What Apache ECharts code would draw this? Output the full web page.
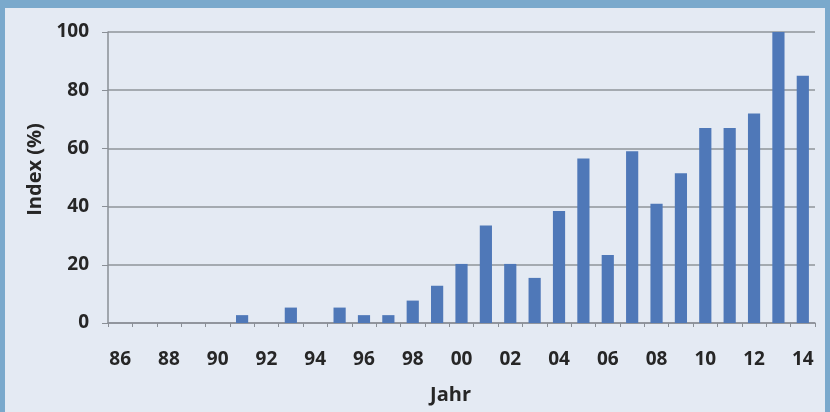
<!DOCTYPE html>
<html><head><meta charset="utf-8">
<script src="https://cdn.jsdelivr.net/npm/echarts@6/dist/echarts.min.js"></script>
<style>
html,body{margin:0;padding:0;width:830px;height:412px;background:#7aa9cc;overflow:hidden}
#c{position:absolute;left:5px;top:8px;width:820px;height:404px;background:#e4eaf3}
</style></head><body>
<div id="c"></div>
<script>
const years = ['86','87','88','89','90','91','92','93','94','95','96','97','98','99','00','01','02','03','04','05','06','07','08','09','10','11','12','13','14'];
const values = [0,0,0,0,0,2.7,0,5.3,0,5.3,2.7,2.7,7.7,12.8,20.3,33.5,20.3,15.5,38.5,56.5,23.4,59,41,51.5,67,67,72,100,85];
const yTicks = [0,20,40,60,80,100];

const chart = echarts.init(document.getElementById('c'));
const font = '"Open Sans", sans-serif';
const txt = '#262626';
chart.setOption({
  animation:false,
  grid:{left:103,right:10,top:24,bottom:89},
  xAxis:{
    type:'category', data:years,
    name:'Jahr', nameLocation:'middle', nameGap:62,
    nameTextStyle:{fontFamily:font,fontWeight:'bold',fontSize:20,color:txt,padding:[0,22,0,0]},
    axisLine:{lineStyle:{color:'#8a8f96',width:1.5}},
    axisTick:{show:true,alignWithLabel:false,interval:0,length:4,lineStyle:{color:'#8a8f96'}},
    axisLabel:{interval:1,margin:27,fontFamily:font,fontWeight:'bold',fontSize:19,color:txt}
  },
  yAxis:{
    type:'value', min:0, max:100, interval:20,
    name:'Index (%)', nameLocation:'middle', nameGap:44,
    nameTextStyle:{fontFamily:font,fontWeight:'bold',fontSize:20,color:txt,padding:[0,0,0,16]},
    axisLine:{show:true,lineStyle:{color:'#8a8f96',width:1.5}},
    axisTick:{show:true,length:6,lineStyle:{color:'#8a8f96'}},
    splitLine:{lineStyle:{color:'#8f949a',width:1.5}},
    axisLabel:{margin:19,fontFamily:font,fontWeight:'bold',fontSize:19,color:txt,
      formatter:v=>yTicks.includes(v)?String(v):''}
  },
  series:[{type:'bar',data:values,barWidth:'50%',itemStyle:{color:'#4f78b8'}}]
});
</script></body></html>
